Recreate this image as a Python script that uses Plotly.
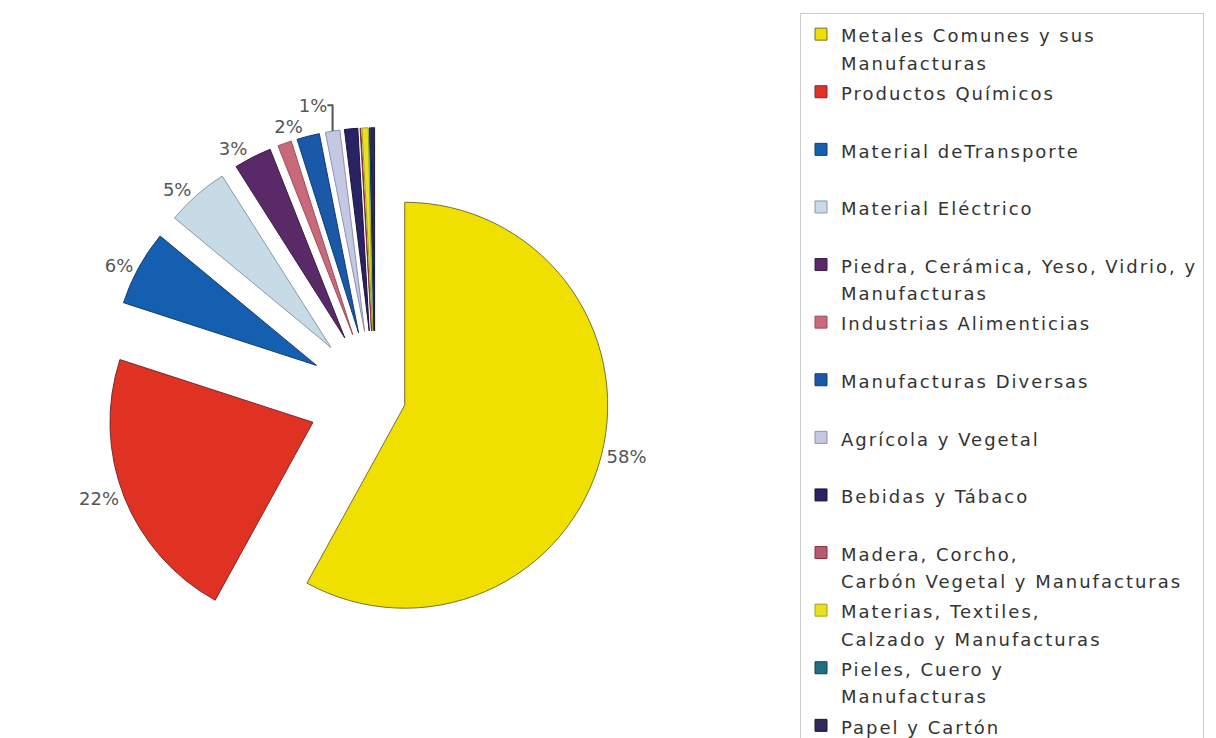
import plotly.graph_objects as go

categories = [
    "Metales Comunes y sus<br>Manufacturas",
    "Productos Químicos",
    "Material deTransporte",
    "Material Eléctrico",
    "Piedra, Cerámica, Yeso, Vidrio, y<br>Manufacturas",
    "Industrias Alimenticias",
    "Manufacturas Diversas",
    "Agrícola y Vegetal",
    "Bebidas y Tábaco",
    "Madera, Corcho,<br>Carbón Vegetal y Manufacturas",
    "Materias, Textiles,<br>Calzado y Manufacturas",
    "Pieles, Cuero y<br>Manufacturas",
    "Papel y Cartón",
]
values = [58, 22, 6, 5, 3, 1.1, 1.8, 1.15, 1.05, 0.05, 0.5, 0.05, 0.3]
pct_labels = ["58%", "22%", "6%", "5%", "3%", "", "2%", "1%", "", "", "", "", ""]
colors = ["#f0e000", "#e03222", "#155fb0", "#c6dbe6", "#5a2a68", "#c86a7c",
          "#1a58a8", "#c4c8e2", "#2a2262", "#b85a70", "#e8e020", "#1f6f80", "#302a58"]
edge_colors = ["#7a7030", "#7a2a30", "#1a3a70", "#8a9aa0", "#3a1a48", "#a04a5a",
               "#103a78", "#9090b0", "#1a1440", "#803040", "#a0a020", "#104050", "#1a1838"]
pulls = [0.15, 0.33, 0.33, 0.33, 0.33, 0.33, 0.33, 0.33, 0.33, 0.33, 0.33, 0.33, 0.33]

SPAN = '<span style="font-size:18px;letter-spacing:2px">{}</span>'


def legend_text(name):
    lines = name.split("<br>")
    if len(lines) == 1:
        lines.append(" ")
    return "<br>".join(SPAN.format(l) for l in lines)


legend_names = [legend_text(c) for c in categories]

fig = go.Figure(go.Pie(
    labels=legend_names,
    values=values,
    text=pct_labels,
    textinfo="text",
    texttemplate="%{text}",
    textposition="outside",
    sort=False,
    direction="clockwise",
    rotation=0,
    pull=pulls,
    marker=dict(colors=colors, line=dict(color=edge_colors, width=1)),
    outsidetextfont=dict(family="DejaVu Sans", size=18, color="#555555"),
    domain=dict(x=[0.080, 0.524], y=[0.106, 0.838]),
    hoverinfo="percent",
))

fig.update_layout(
    width=1216, height=738,
    margin=dict(l=0, r=0, t=0, b=0, autoexpand=False),
    paper_bgcolor="white",
    plot_bgcolor="white",
    showlegend=True,
    legend=dict(
        xref="container", yref="container",
        x=792 / 1216, y=1 - 5 / 738, xanchor="left", yanchor="top",
        bordercolor="#cccccc", borderwidth=1,
        font=dict(family="DejaVu Sans", size=21, color="#333333"),
        valign="top",
        traceorder="normal",
        maxheight=800,
    ),
)

fig.write_html("out.html")
